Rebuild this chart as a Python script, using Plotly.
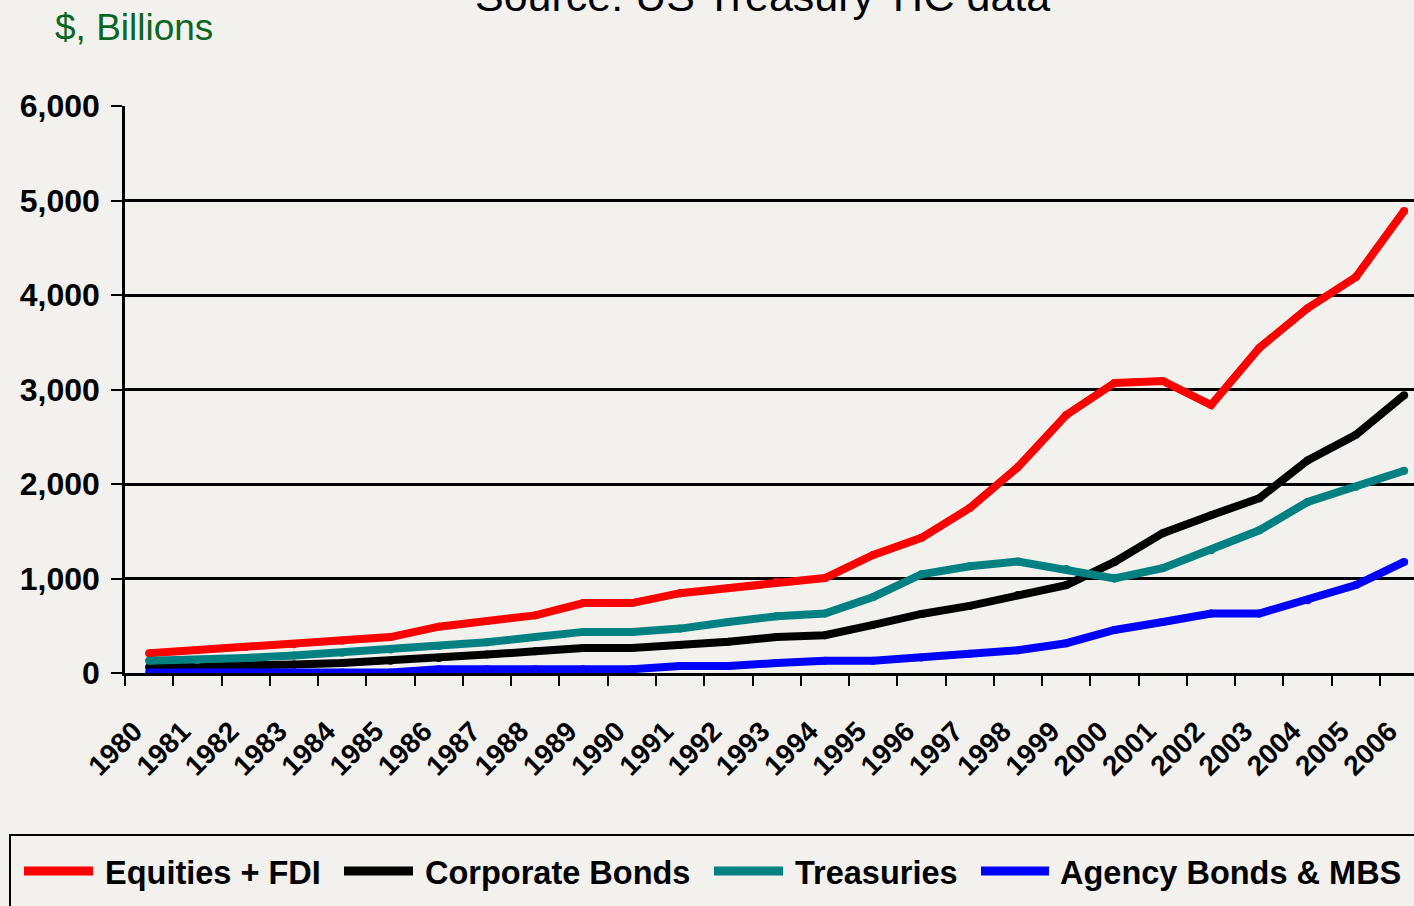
import plotly.graph_objects as go

years = list(range(1980, 2007))
year_labels = [str(y) for y in years]

equities = [210, 240, 275, 305, 340, 380, 490, 550, 610, 740, 740, 845, 900, 965, 1005,
            1250, 1430, 1745, 2180, 2730, 3070, 3090, 2835, 3440, 3860, 4190, 4890]
corporate = [60, 65, 80, 90, 105, 130, 160, 195, 230, 265, 265, 295, 330, 380, 400,
             510, 625, 710, 825, 930, 1175, 1480, 1670, 1850, 2250, 2520, 2940]
treasuries = [130, 135, 160, 185, 215, 250, 285, 325, 380, 435, 435, 470, 540, 600, 630,
              805, 1045, 1130, 1180, 1100, 1000, 1110, 1300, 1510, 1810, 1970, 2140]
agency = [5, 5, 5, 5, 5, 5, 40, 40, 40, 40, 40, 75, 75, 105, 130,
          130, 165, 205, 240, 315, 455, 540, 630, 630, 770, 930, 1175]

series_names = ["Equities + FDI", "Corporate Bonds", "Treasuries", "Agency Bonds & MBS"]
series_values = [equities, corporate, treasuries, agency]
series_colors = ["#ff0000", "#000000", "#008080", "#0000ff"]

y_ticks = [0, 1000, 2000, 3000, 4000, 5000, 6000]
y_ticktext = ["0", "1,000", "2,000", "3,000", "4,000", "5,000", "6,000"]

W, H = 1414, 906
L, R, T, B = 125, 0, 106, 233
PW, PH = W - L - R, H - T - B

def px_x(p):
    return (p - L) / PW

def px_y(p):
    return (H - B - p) / PH

idx = list(range(len(years)))
fig = go.Figure()
for name, vals, col in zip(series_names, series_values, series_colors):
    fig.add_trace(go.Scatter(
        x=idx, y=vals, name=name, mode="lines+markers",
        line=dict(color=col, width=8),
        marker=dict(color=col, size=8),
        showlegend=False, hoverinfo="x+y+name",
    ))

fig.update_layout(
    width=W, height=H,
    margin=dict(l=L, r=R, t=T, b=B),
    paper_bgcolor="#f2f1ed",
    plot_bgcolor="rgba(0,0,0,0)",
    font=dict(family="Liberation Sans, Arial, sans-serif", color="black"),
    xaxis=dict(
        range=[-0.5, 26.204],
        tickmode="array", tickvals=idx, ticktext=year_labels,
        ticks="", tickangle=-45,
        tickfont=dict(size=28, weight="bold", color="black"),
        ticklabelstandoff=28,
        ticklabelshift=-15,
        ticklabeloverflow="allow",
        showgrid=False, zeroline=False,
        showline=True, linecolor="black", linewidth=2.5,
        minor=dict(tickmode="array", tickvals=[i - 0.5 for i in range(28)],
                   ticks="outside", ticklen=10, tickwidth=2, tickcolor="black",
                   showgrid=False),
    ),
    yaxis=dict(
        range=[0, 6000],
        tickmode="array", tickvals=y_ticks, ticktext=y_ticktext,
        ticks="outside", ticklen=11, tickwidth=2, tickcolor="black",
        tickfont=dict(size=32, weight="bold", color="black"),
        ticklabelstandoff=5,
        showgrid=True, gridcolor="black", gridwidth=2.5,
        zeroline=False,
        showline=True, linecolor="black", linewidth=2.5,
    ),
)

annotations = [
    dict(text="Source: US Treasury TIC data", xref="paper", yref="paper",
         x=px_x(762), y=px_y(22), xanchor="center", yanchor="bottom",
         showarrow=False, font=dict(size=43, color="black")),
    dict(text="$, Billions", xref="paper", yref="paper",
         x=px_x(53), y=px_y(28), xanchor="left", yanchor="middle",
         showarrow=False, font=dict(size=37, color="#0b6623")),
]

shapes = [
    dict(type="rect", xref="paper", yref="paper",
         x0=px_x(10), x1=px_x(1430), y0=px_y(920), y1=px_y(835),
         line=dict(color="black", width=2), fillcolor="rgba(0,0,0,0)", layer="above"),
]

legend_line_x = [(20, 97), (340, 417), (710, 787), (977, 1053)]
legend_text_x = [103, 423, 793, 1058]
legend_y = 871
for (x0, x1), tx, name, col in zip(legend_line_x, legend_text_x, series_names, series_colors):
    shapes.append(dict(type="line", xref="paper", yref="paper",
                       x0=px_x(x0 + 4), x1=px_x(x1 - 4), y0=px_y(legend_y), y1=px_y(legend_y),
                       line=dict(color=col, width=9)))
    annotations.append(dict(text=name, xref="paper", yref="paper",
                            x=px_x(tx), y=px_y(legend_y + 2), xanchor="left", yanchor="middle",
                            showarrow=False,
                            font=dict(size=32.5, weight="bold", color="black")))

fig.update_layout(annotations=annotations, shapes=shapes)
fig.write_html("out.html",
               config={"displayModeBar": False},
               post_script="document.body.style.margin='0';document.body.style.overflow='hidden';")
